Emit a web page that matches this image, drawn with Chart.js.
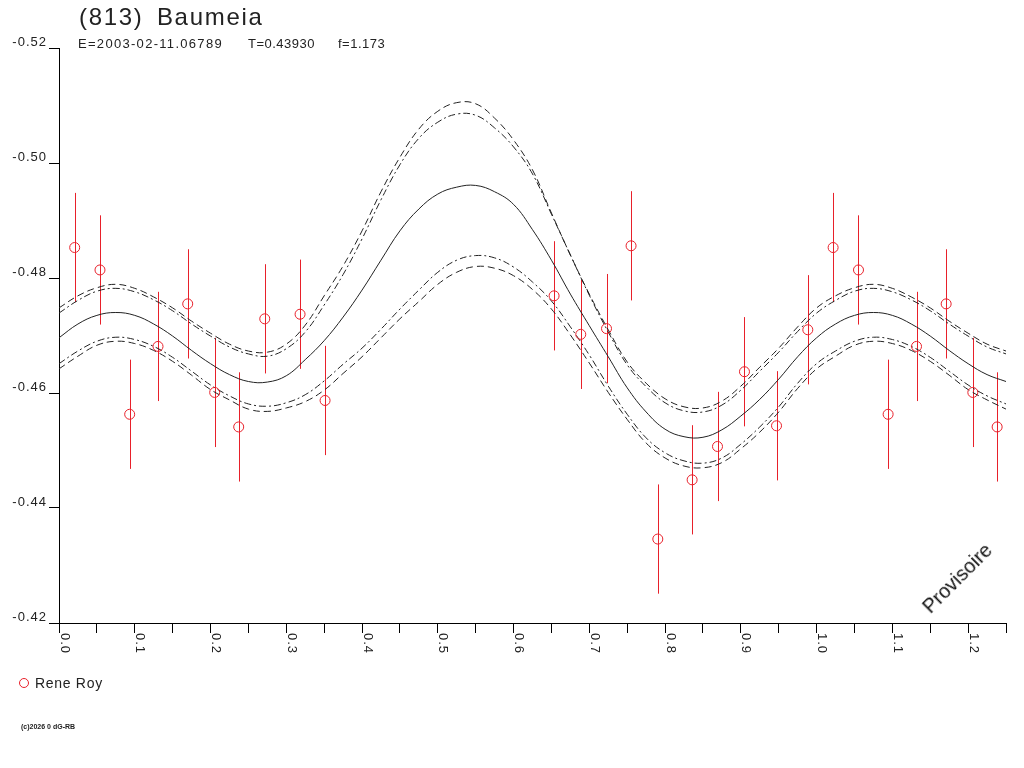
<!DOCTYPE html>
<html>
<head>
<meta charset="utf-8">
<script src="https://cdn.jsdelivr.net/npm/chart.js@4.4.1/dist/chart.umd.min.js"></script>
<style>
	body{ margin:0; background:#fff; }
	#wrap{ position:relative; width:1024px; height:768px; font-family:"Liberation Sans", Arial, sans-serif; color:#222; overflow:hidden; }
	#wrap canvas{ position:absolute; left:0; top:0; }
	.txt{ position:absolute; white-space:pre; line-height:1; }
	#legendDot{ position:absolute; left:19px; top:678px; width:10px; height:10px; box-sizing:border-box; border:1px solid #e8202a; border-radius:50%; }
</style>
</head>
<body>
<div id="wrap">
	<canvas id="lc" width="1024" height="768"></canvas>
	<div class="txt" style="left:79px; top:5px; font-size:24px; letter-spacing:1.7px; word-spacing:5px;">(813) Baumeia</div>
	<div class="txt" style="left:78px; top:37px; font-size:13px; letter-spacing:1.3px;">E=2003-02-11.06789</div>
	<div class="txt" style="left:248px; top:37px; font-size:13px; letter-spacing:0.5px;">T=0.43930</div>
	<div class="txt" style="left:338px; top:37px; font-size:13px; letter-spacing:0.5px;">f=1.173</div>
	<div id="legendDot"></div>
	<div class="txt" style="left:35px; top:676px; font-size:14px; letter-spacing:0.7px;">Rene Roy</div>
	<div class="txt" style="left:21px; top:723px; font-size:7px; font-weight:bold;">(c)2026 0 dG-RB</div>
	<div class="txt" style="left:957px; top:578px; font-size:20px; color:#111; transform:translate(-50%,-50%) rotate(-45deg);">Provisoire</div>
</div>
<script>
	// phase grid of the fitted light curve
	const fitPhase = [0.000, 0.025, 0.050, 0.075, 0.100, 0.125, 0.150, 0.175, 0.200, 0.225, 0.250,
		0.275, 0.300, 0.325, 0.350, 0.375, 0.400, 0.425, 0.450, 0.475, 0.500,
		0.525, 0.550, 0.575, 0.600, 0.625, 0.650, 0.675, 0.700, 0.725, 0.750,
		0.775, 0.800, 0.825, 0.850, 0.875, 0.900, 0.925, 0.950, 0.975, 1.000,
		1.025, 1.050, 1.075, 1.100, 1.125, 1.150, 1.175, 1.200, 1.225, 1.250]

	const fitMain = [-0.4696, -0.4720, -0.4735, -0.4740, -0.4735, -0.4720, -0.4699, -0.4674, -0.4651, -0.4632, -0.4620,
		-0.4619, -0.4630, -0.4658, -0.4691, -0.4732, -0.4779, -0.4831, -0.4882, -0.4920, -0.4946,
		-0.4958, -0.4961, -0.4950, -0.4928, -0.4884, -0.4831, -0.4772, -0.4717, -0.4663, -0.4609,
		-0.4567, -0.4537, -0.4524, -0.4523, -0.4536, -0.4560, -0.4589, -0.4624, -0.4663, -0.4696,
		-0.4720, -0.4735, -0.4740, -0.4735, -0.4720, -0.4699, -0.4674, -0.4651, -0.4632, -0.4620]

	const fitUpperDash = [-0.4748, -0.4769, -0.4783, -0.4789, -0.4782, -0.4767, -0.4748, -0.4725, -0.4704, -0.4685, -0.4673,
		-0.4671, -0.4685, -0.4718, -0.4769, -0.4821, -0.4882, -0.4950, -0.5010, -0.5059, -0.5090,
		-0.5105, -0.5103, -0.5078, -0.5040, -0.4988, -0.4913, -0.4840, -0.4772, -0.4710, -0.4654,
		-0.4617, -0.4590, -0.4576, -0.4574, -0.4586, -0.4612, -0.4645, -0.4678, -0.4715, -0.4748,
		-0.4769, -0.4783, -0.4789, -0.4782, -0.4767, -0.4748, -0.4725, -0.4704, -0.4685, -0.4673]

	const fitUpperDashDot = [-0.4739, -0.4761, -0.4777, -0.4782, -0.4776, -0.4762, -0.4743, -0.4720, -0.4699, -0.4680, -0.4668,
		-0.4664, -0.4677, -0.4706, -0.4753, -0.4806, -0.4868, -0.4936, -0.4997, -0.5043, -0.5071,
		-0.5085, -0.5083, -0.5061, -0.5028, -0.4981, -0.4911, -0.4840, -0.4770, -0.4706, -0.4649,
		-0.4611, -0.4583, -0.4569, -0.4567, -0.4579, -0.4605, -0.4638, -0.4671, -0.4707, -0.4739,
		-0.4761, -0.4777, -0.4782, -0.4776, -0.4762, -0.4743, -0.4720, -0.4699, -0.4680, -0.4668]

	const fitLowerDashDot = [-0.4651, -0.4673, -0.4690, -0.4697, -0.4693, -0.4681, -0.4662, -0.4638, -0.4614, -0.4595, -0.4581,
		-0.4577, -0.4583, -0.4597, -0.4621, -0.4650, -0.4678, -0.4711, -0.4746, -0.4779, -0.4810,
		-0.4831, -0.4839, -0.4835, -0.4819, -0.4793, -0.4760, -0.4715, -0.4666, -0.4612, -0.4563,
		-0.4522, -0.4496, -0.4482, -0.4478, -0.4487, -0.4511, -0.4541, -0.4576, -0.4617, -0.4651,
		-0.4673, -0.4690, -0.4697, -0.4693, -0.4681, -0.4662, -0.4638, -0.4614, -0.4595, -0.4581]

	const fitLowerDash = [-0.4642, -0.4664, -0.4683, -0.4690, -0.4686, -0.4674, -0.4655, -0.4631, -0.4606, -0.4588, -0.4572,
		-0.4568, -0.4574, -0.4585, -0.4605, -0.4634, -0.4663, -0.4696, -0.4729, -0.4759, -0.4789,
		-0.4810, -0.4820, -0.4817, -0.4804, -0.4780, -0.4746, -0.4701, -0.4652, -0.4601, -0.4554,
		-0.4513, -0.4487, -0.4473, -0.4470, -0.4479, -0.4503, -0.4532, -0.4567, -0.4608, -0.4642,
		-0.4664, -0.4683, -0.4690, -0.4686, -0.4674, -0.4655, -0.4631, -0.4606, -0.4588, -0.4572]

	// observations (Rene Roy)
	const obsPhase = [0.0207, 0.0541, 0.0933, 0.1307, 0.1699, 0.2055, 0.2372, 0.2716, 0.3182, 0.3512,
		0.6535, 0.6887, 0.7227, 0.7551, 0.7904, 0.8357, 0.8692, 0.9048, 0.9471, 0.9884,
		1.0218, 1.0553, 1.0944, 1.1319, 1.1710, 1.2062, 1.2383]
	const obsMag = [-0.4853, -0.4814, -0.4563, -0.4681, -0.4755, -0.4601, -0.4541, -0.4729, -0.4737, -0.4587,
		-0.4769, -0.4702, -0.4712, -0.4856, -0.4346, -0.4449, -0.4507, -0.4637, -0.4543, -0.4710,
		-0.4853, -0.4814, -0.4563, -0.4681, -0.4755, -0.4601, -0.4541]
	const obsErr = [0.0095, 0.0095, 0.0095, 0.0095, 0.0095, 0.0095, 0.0095, 0.0095, 0.0095, 0.0095,
		0.0095, 0.0095, 0.0095, 0.0095, 0.0095, 0.0095, 0.0095, 0.0095, 0.0095, 0.0095,
		0.0095, 0.0095, 0.0095, 0.0095, 0.0095, 0.0095, 0.0095]

	// tick labels
	const xTickLabels = ['0.0', '0.1', '0.2', '0.3', '0.4', '0.5', '0.6', '0.7', '0.8', '0.9', '1.0', '1.1', '1.2']
	const yTickLabels = ['-0.52', '-0.50', '-0.48', '-0.46', '-0.44', '-0.42']

	const FONT = '"Liberation Sans", Arial, sans-serif'
	const RED = '#e8202a'
	const INK = '#222'

	class ChartUtil{
		static toPoints(xs, ys){
			return xs.map((x, i) => ({ x: x, y: ys[i] }))
		}

		static curve(label, ys, dash){
			return {
				label: label,
				data: ChartUtil.toPoints(fitPhase, ys),
				showLine: true,
				borderColor: INK,
				borderWidth: 1,
				borderDash: dash,
				pointRadius: 0,
				tension: 0.4,
				fill: false
			}
		}
	}

	// red vertical error bars, drawn through the scales
	const errorBars = {
		id: 'errorBars',
		beforeDatasetsDraw(chart){
			const ctx = chart.ctx
			const xs = chart.scales.x
			const ys = chart.scales.y
			ctx.save()
			ctx.strokeStyle = RED
			ctx.lineWidth = 1
			obsPhase.forEach((p, i) => {
				const px = Math.round(xs.getPixelForValue(p)) + 0.5
				ctx.beginPath()
				ctx.moveTo(px, ys.getPixelForValue(obsMag[i] - obsErr[i]))
				ctx.lineTo(px, ys.getPixelForValue(obsMag[i] + obsErr[i]))
				ctx.stroke()
			})
			ctx.restore()
		}
	}

	// x labels turned a quarter clockwise, as in the original
	const xLabels = {
		id: 'xLabels',
		beforeDraw(chart){ chart.ctx.letterSpacing = '1px' },
		afterDraw(chart){
			const ctx = chart.ctx
			const xs = chart.scales.x
			ctx.save()
			ctx.fillStyle = INK
			ctx.font = '13px ' + FONT
			ctx.textAlign = 'left'
			ctx.textBaseline = 'alphabetic'
			xTickLabels.forEach(t => {
				const px = xs.getPixelForValue(parseFloat(t))
				ctx.save()
				ctx.translate(px + 1.5, xs.top + 10)
				ctx.rotate(Math.PI / 2)
				ctx.fillText(t, 0, 0)
				ctx.restore()
			})
			ctx.restore()
			ctx.letterSpacing = '0px'
		}
	}

	new Chart(document.getElementById('lc'), {
		type: 'scatter',
		data: {
			datasets: [
				{
					label: 'Rene Roy',
					data: ChartUtil.toPoints(obsPhase, obsMag),
					pointStyle: 'circle',
					pointRadius: 5,
					pointBorderWidth: 1,
					borderColor: RED,
					backgroundColor: 'rgba(0,0,0,0)',
					showLine: false
				},
				ChartUtil.curve('fit', fitMain, []),
				ChartUtil.curve('upper', fitUpperDash, [7, 4]),
				ChartUtil.curve('upper2', fitUpperDashDot, [7, 3, 2, 3]),
				ChartUtil.curve('lower2', fitLowerDashDot, [7, 3, 2, 3]),
				ChartUtil.curve('lower', fitLowerDash, [7, 4])
			]
		},
		options: {
			responsive: false,
			animation: false,
			devicePixelRatio: 1,
			layout: { padding: { left: 0, top: 48, right: 18, bottom: 0 } },
			plugins: {
				legend: { display: false },
				title: { display: false },
				tooltip: { enabled: false }
			},
			scales: {
				x: {
					type: 'linear',
					min: 0,
					max: 1.25,
					ticks: { stepSize: 0.05, autoSkip: false, maxRotation: 0, callback: () => '' },
					grid: { drawOnChartArea: false, drawTicks: true, tickLength: 10, color: '#000' },
					border: { display: true, color: '#000', width: 1 },
					afterFit: s => { s.height = 145 }
				},
				y: {
					type: 'linear',
					reverse: true,
					min: -0.52,
					max: -0.42,
					ticks: {
						stepSize: 0.02,
						padding: 2,
						labelOffset: -6,
						color: INK,
						font: { family: FONT, size: 13 },
						callback: (v) => {
							const t = v.toFixed(2)
							return yTickLabels.includes(t) ? t : ''
						}
					},
					grid: { drawOnChartArea: false, drawTicks: true, tickLength: 10, color: '#000' },
					border: { display: true, color: '#000', width: 1 },
					afterFit: s => { s.width = 59 }
				}
			}
		},
		plugins: [errorBars, xLabels]
	})
</script>
</body>
</html>
